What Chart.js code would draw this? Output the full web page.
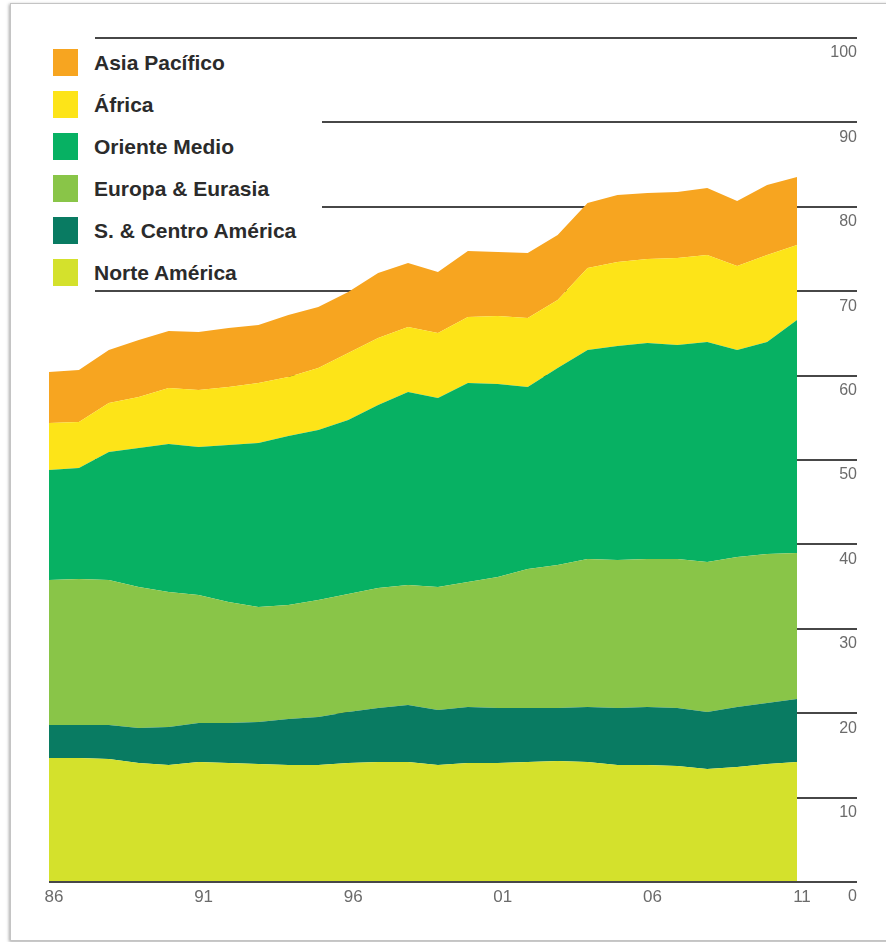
<!DOCTYPE html>
<html>

<head>
  <meta charset="utf-8">
  <title>Producción por región</title>
  <script src="https://cdn.jsdelivr.net/npm/chart.js@4.4.0/dist/chart.umd.min.js"></script>

  <style>
    body {
      margin: 0;
      background-color: white;
    }

    .frame {
      position: absolute;
      left: 10px;
      top: 3px;
      width: 890px;
      height: 936px;
      border: 1px solid #c4c4c4;
      box-shadow: -1px 1px 3px rgba(0, 0, 0, 0.35);
    }

    #chart {
      position: absolute;
      left: 0;
      top: 0;
    }

    .legend {
      position: absolute;
      left: 50px;
      top: 42px;
      width: 272px;
      height: 246px;
      background: white;
      font-family: "Liberation Sans", Arial, sans-serif;
      font-weight: bold;
      font-size: 21px;
      color: #2b2b2b;
    }

    .item {
      position: absolute;
      left: 0;
      height: 27px;
    }

    .swatch {
      position: absolute;
      left: 3px;
      top: 0;
      width: 25px;
      height: 27px;
    }

    .label {
      position: absolute;
      left: 44px;
      top: 0;
      line-height: 27px;
      white-space: nowrap;
    }
  </style>
</head>

<body>
  <div class="frame"></div>
  <canvas id="chart" width="886" height="942"></canvas>
  <div class="legend" id="legend"></div>

  <script>
    const years = ['86', '87', '88', '89', '90', '91', '92', '93', '94', '95', '96', '97', '98',
      '99', '00', '01', '02', '03', '04', '05', '06', '07', '08', '09', '10', '11'];

    // series, bottom to top of the stack
    const norteAmerica = [14.69, 14.69, 14.57, 14.10, 13.86, 14.22, 14.10, 13.98, 13.86, 13.86, 14.10, 14.22, 14.22,
      13.86, 14.10, 14.10, 14.22, 14.34, 14.22, 13.86, 13.86, 13.74, 13.39, 13.63, 13.98, 14.22];
    const centroAmerica = [3.91, 3.91, 4.03, 4.15, 4.50, 4.62, 4.74, 4.98, 5.45, 5.69, 6.04, 6.40, 6.75,
      6.52, 6.63, 6.52, 6.40, 6.28, 6.51, 6.76, 6.87, 6.88, 6.75, 7.10, 7.23, 7.46];
    const europa = [17.18, 17.30, 17.18, 16.70, 16.00, 15.16, 14.34, 13.62, 13.51, 13.86, 13.98, 14.21, 14.22,
      14.57, 14.82, 15.52, 16.47, 16.94, 17.54, 17.53, 17.54, 17.65, 17.77, 17.78, 17.65, 17.30];
    const orienteMedio = [13.04, 13.15, 15.17, 16.47, 17.54, 17.54, 18.60, 19.43, 20.02, 20.14, 20.62, 21.69, 22.87,
      22.40, 23.57, 22.86, 21.56, 23.34, 24.76, 25.36, 25.59, 25.36, 26.07, 24.52, 25.12, 27.61];
    const africa = [5.56, 5.45, 5.80, 6.04, 6.63, 6.75, 6.87, 7.11, 6.99, 7.35, 7.94, 7.93, 7.70,
      7.70, 7.82, 8.06, 8.17, 8.06, 9.72, 9.95, 9.96, 10.30, 10.31, 9.96, 10.31, 8.88];
    const asiaPacifico = [6.05, 6.16, 6.28, 6.76, 6.75, 6.88, 6.99, 6.87, 7.35, 7.23, 7.23, 7.71, 7.58,
      7.22, 7.82, 7.58, 7.71, 7.70, 7.70, 7.94, 7.82, 7.82, 7.94, 7.70, 8.29, 8.06];

    const seriesNames = ['Norte América', 'S. & Centro América', 'Europa & Eurasia', 'Oriente Medio', 'África', 'Asia Pacífico'];
    const seriesData = [norteAmerica, centroAmerica, europa, orienteMedio, africa, asiaPacifico];
    const seriesColors = ['#D4E12C', '#097B62', '#89C548', '#07B163', '#FDE418', '#F7A520'];

    const yTicks = [0, 10, 20, 30, 40, 50, 60, 70, 80, 90, 100];

    const lineStart = 95;     // where the reference lines begin
    const lineOverhang = 60;  // how far they run past the plot

    // horizontal reference lines behind the areas, baseline on top
    function drawLines(chart, baseOnly) {
      const y = chart.scales.y;
      const area = chart.chartArea;
      const ctx = chart.ctx;
      ctx.save();
      ctx.strokeStyle = '#474747';
      ctx.lineWidth = 2;
      y.ticks.forEach(t => {
        if ((t.value === 0) !== baseOnly) return;
        const py = Math.round(y.getPixelForValue(t.value));
        ctx.beginPath();
        ctx.moveTo(t.value === 0 ? area.left : lineStart, py);
        ctx.lineTo(area.right + lineOverhang, py);
        ctx.stroke();
      });
      ctx.restore();
    }

    const gridLines = {
      id: 'gridLines',
      beforeDatasetsDraw(chart) { drawLines(chart, false); },
      afterDatasetsDraw(chart) { drawLines(chart, true); }
    };

    const datasets = seriesData.map((d, i) => ({
      label: seriesNames[i],
      data: d,
      backgroundColor: seriesColors[i],
      borderWidth: 0,
      pointRadius: 0,
      tension: 0,
      fill: i === 0 ? 'origin' : '-1'
    }));

    new Chart(document.getElementById('chart'), {
      type: 'line',
      data: { labels: years, datasets: datasets },
      plugins: [gridLines],
      options: {
        responsive: false,
        animation: false,
        devicePixelRatio: 1,
        layout: { padding: { left: 49, top: 38, right: 29, bottom: 0 } },
        plugins: {
          legend: { display: false },
          tooltip: { enabled: false }
        },
        scales: {
          x: {
            grid: { display: false, drawTicks: false },
            border: { display: false },
            afterFit: s => { s.height = 60; },
            ticks: {
              autoSkip: false,
              maxRotation: 0,
              padding: 5,
              labelOffset: 5,
              color: '#6b6b6b',
              font: { family: '"Liberation Sans", Arial, sans-serif', size: 17 },
              callback: function (v, i) { return i % 5 === 0 ? years[i] : ''; }
            }
          },
          y: {
            position: 'right',
            stacked: true,
            min: 0,
            max: 100,
            grid: { display: false, drawTicks: false },
            border: { display: false },
            afterFit: s => { s.width = 60; },
            afterBuildTicks: s => { s.ticks = yTicks.map(v => ({ value: v })); },
            ticks: {
              crossAlign: 'far',
              padding: 4,
              labelOffset: 15,
              color: '#6b6b6b',
              font: { family: '"Liberation Sans", Arial, sans-serif', size: 16 }
            }
          }
        }
      }
    });

    // legend, top of the stack first
    const legend = document.getElementById('legend');
    for (let k = 0; k < seriesNames.length; k++) {
      const i = seriesNames.length - 1 - k;
      const item = document.createElement('div');
      item.className = 'item';
      item.style.top = (6.5 + 42 * k) + 'px';
      item.innerHTML = '<div class="swatch" style="background:' + seriesColors[i] + '"></div>' +
        '<div class="label">' + seriesNames[i] + '</div>';
      legend.appendChild(item);
    }
  </script>
</body>

</html>
